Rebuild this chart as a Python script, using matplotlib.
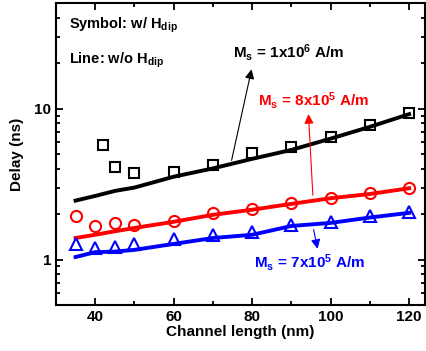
import matplotlib
matplotlib.use('Agg')
import matplotlib.pyplot as plt
from matplotlib.ticker import LogLocator, NullFormatter, FuncFormatter, MultipleLocator

plt.rcParams['font.family'] = ['Liberation Sans', 'DejaVu Sans']
plt.rcParams['font.weight'] = 'bold'
plt.rcParams['mathtext.fontset'] = 'custom'
plt.rcParams['mathtext.rm'] = 'Liberation Sans:bold'
plt.rcParams['mathtext.bf'] = 'Liberation Sans:bold'
plt.rcParams['mathtext.default'] = 'bf'

# symbols: with dipolar field
x_sq = [42, 45, 50, 60, 70, 80, 90, 100, 110, 120]
y_sq = [5.73, 4.12, 3.76, 3.82, 4.25, 5.05, 5.56, 6.52, 7.84, 9.41]
x_sym = [35, 40, 45, 50, 60, 70, 80, 90, 100, 110, 120]
y_circ = [1.93, 1.68, 1.75, 1.70, 1.79, 2.03, 2.16, 2.36, 2.57, 2.75, 2.99]
y_tri = [1.26, 1.19, 1.21, 1.27, 1.37, 1.45, 1.52, 1.70, 1.77, 1.93, 2.08]

# lines: without dipolar field
x_line = [35, 40, 45, 50, 60, 70, 80, 90, 100, 110, 120]
y_black = [2.46, 2.64, 2.85, 3.0, 3.54, 4.02, 4.65, 5.33, 6.33, 7.58, 9.2]
y_red = [1.39, 1.46, 1.54, 1.62, 1.78, 1.98, 2.14, 2.34, 2.55, 2.72, 2.97]
y_blue = [1.04, 1.12, 1.13, 1.16, 1.27, 1.39, 1.46, 1.67, 1.75, 1.90, 2.04]

fig = plt.figure(figsize=(4.27, 3.51), dpi=100)
ax = fig.add_axes([0.131, 0.131, 0.864, 0.860])

lw = 2.8
ax.plot(x_line, y_black, color='black', lw=lw)
ax.plot(x_line, y_red, color='red', lw=lw)
ax.plot(x_line, y_blue, color='blue', lw=lw)
ax.plot(x_sq, y_sq, ls='none', marker='s', ms=7, mfc='none', mec='black', mew=1.5)
ax.plot(x_sym, y_circ, ls='none', marker='o', ms=8, mfc='none', mec='red', mew=1.5)
ax.plot(x_sym, y_tri, ls='none', marker='^', ms=9, mfc='none', mec='blue', mew=1.5)

ax.set_yscale('log')
ax.set_xlim(30, 124)
ax.set_ylim(0.5, 50)
ax.xaxis.set_major_locator(MultipleLocator(20))
ax.xaxis.set_minor_locator(MultipleLocator(10))
ax.yaxis.set_major_locator(LogLocator(base=10))
ax.yaxis.set_minor_locator(LogLocator(base=10, subs=range(2, 10)))
ax.yaxis.set_major_formatter(FuncFormatter(lambda v, p: '%g' % v))
ax.yaxis.set_minor_formatter(NullFormatter())
ax.tick_params(which='both', direction='in', top=True, right=True, width=1.3, labelsize=11)
ax.tick_params(which='major', length=5)
ax.tick_params(which='minor', length=3)
for s in ax.spines.values():
    s.set_linewidth(1.5)

ax.set_xlabel('Channel length (nm)', fontsize=11, fontweight='bold', labelpad=1)
ax.set_ylabel('Delay (ns)', fontsize=11, fontweight='bold', labelpad=7)

ax.text(0.035, 0.927, r'Symbol: w/ H$_\mathrm{dip}$', transform=ax.transAxes, fontsize=10.5, va='center')
ax.text(0.035, 0.811, r'Line: w/o H$_\mathrm{dip}$', transform=ax.transAxes, fontsize=10.5, va='center')

ax.text(75.1, 23.5, r'M$_\mathrm{s}$ = 1x10$^\mathrm{6}$ A/m', color='black', fontsize=11, va='center')
ax.text(81.5, 11.3, r'M$_\mathrm{s}$ = 8x10$^\mathrm{5}$ A/m', color='red', fontsize=11, va='center')
ax.text(80.5, 0.955, r'M$_\mathrm{s}$ = 7x10$^\mathrm{5}$ A/m', color='blue', fontsize=11, va='center')

ax.annotate('', xy=(80.0, 19.0), xytext=(74.6, 4.36),
            arrowprops=dict(arrowstyle='-|>', color='black', lw=0.8, mutation_scale=14))
ax.annotate('', xy=(94.3, 9.6), xytext=(95.5, 2.56),
            arrowprops=dict(arrowstyle='-|>', color='red', lw=0.8, mutation_scale=14))
ax.annotate('', xy=(96.8, 1.13), xytext=(95.5, 1.65),
            arrowprops=dict(arrowstyle='-|>', color='blue', lw=0.8, mutation_scale=14))

fig.savefig('out.png', dpi=100)
